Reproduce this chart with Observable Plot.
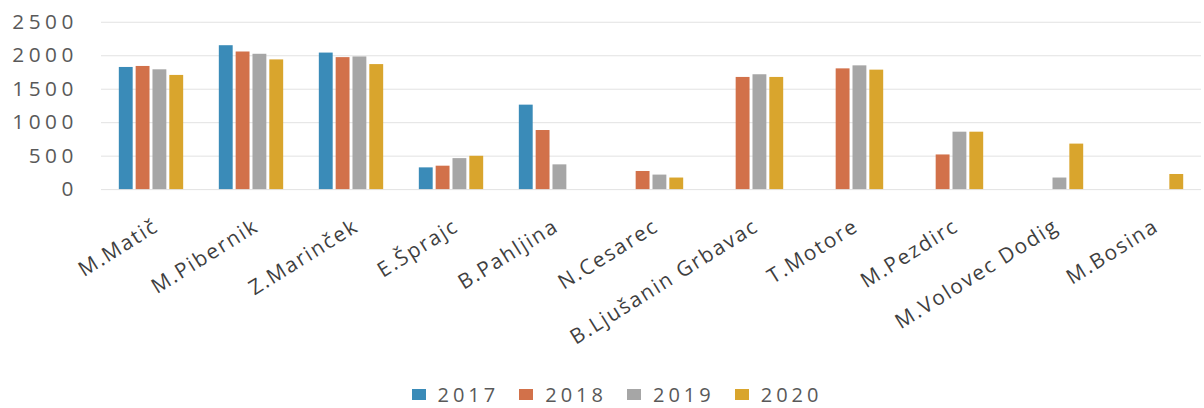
<!DOCTYPE html>
<html>
<head>
<meta charset="utf-8">
<script src="https://cdn.jsdelivr.net/npm/d3@7"></script>
<script src="https://cdn.jsdelivr.net/npm/@observablehq/plot@0.6"></script>
<style>
  html, body { margin: 0; padding: 0; background: #fff; width: 1204px; height: 408px; overflow: hidden; }
  #chart { position: absolute; left: 0; top: 0; }
  .yax text { font-family: "Open Sans", sans-serif; font-size: 21px; letter-spacing: 4.5px; fill: #595959; }
  .fxax text { font-family: "Open Sans", sans-serif; font-size: 21px; letter-spacing: 1.8px; fill: #3f3f3f; }
  #legend { position: absolute; left: 0; top: 381px; width: 1174px; padding-left: 30px; display: flex; justify-content: center;
            font-family: "Open Sans", sans-serif; font-size: 20px; line-height: 27px; letter-spacing: 4px; color: #595959; }
  .item { display: flex; align-items: center; margin: 0 10px; }
  .sw { width: 14px; height: 11px; margin-right: 12px; }
</style>
</head>
<body>
<div id="chart"></div>
<div id="legend"></div>
<script>
const names = ["M.Matič", "M.Pibernik", "Z.Marinček", "E.Šprajc", "B.Pahljina", "N.Cesarec",
  "B.Ljušanin Grbavac", "T.Motore", "M.Pezdirc", "M.Volovec Dodig", "M.Bosina"];
const years = ["2017", "2018", "2019", "2020"];
const colors = ["#3a8bb8", "#d2714a", "#a6a6a6", "#d9a52d"];
const v2017 = [1825, 2150, 2040, 325, 1262, null, null, null, null, null, null];
const v2018 = [1840, 2056, 1972, 350, 883, 271, 1676, 1804, 518, null, null];
const v2019 = [1790, 2022, 1982, 463, 370, 217, 1716, 1849, 858, 173, null];
const v2020 = [1706, 1938, 1868, 498, null, 173, 1676, 1785, 858, 680, 226];
const yTicks = [0, 500, 1000, 1500, 2000, 2500];

const series = [v2017, v2018, v2019, v2020];
const data = [];
names.forEach((n, i) => {
  years.forEach((yr, j) => {
    const v = series[j][i];
    if (v != null) data.push({name: n, year: yr, value: v});
  });
});

const chart = Plot.plot({
  width: 1216,
  height: 380,
  marginLeft: 99,
  marginRight: 0,
  marginTop: 22,
  marginBottom: 189,
  style: {background: "transparent"},
  fx: {domain: names, padding: 0, axis: null},
  x: {domain: years, paddingInner: 0.2, paddingOuter: 0.935, axis: null},
  y: {domain: [0, 2500], axis: null},
  color: {domain: years, range: colors},
  marks: [
    Plot.ruleY(yTicks, {stroke: "#e2e2e2", strokeWidth: 1}),
    Plot.barY(data, {fx: "name", x: "year", y: "value", fill: "year"}),
    Plot.axisY({ticks: yTicks, tickSize: 0, tickPadding: 24, tickFormat: d => String(d), label: null, className: "yax"}),
    Plot.axisFx({anchor: "bottom", tickSize: 0, tickPadding: 35, dx: 5, tickRotate: -32, label: null, className: "fxax"})
  ]
});
document.getElementById("chart").appendChild(chart);

const legend = document.getElementById("legend");
years.forEach((yr, j) => {
  const it = document.createElement("div");
  it.className = "item";
  const sw = document.createElement("span");
  sw.className = "sw";
  sw.style.background = colors[j];
  const t = document.createElement("span");
  t.textContent = yr;
  it.appendChild(sw); it.appendChild(t);
  legend.appendChild(it);
});
</script>
</body>
</html>
